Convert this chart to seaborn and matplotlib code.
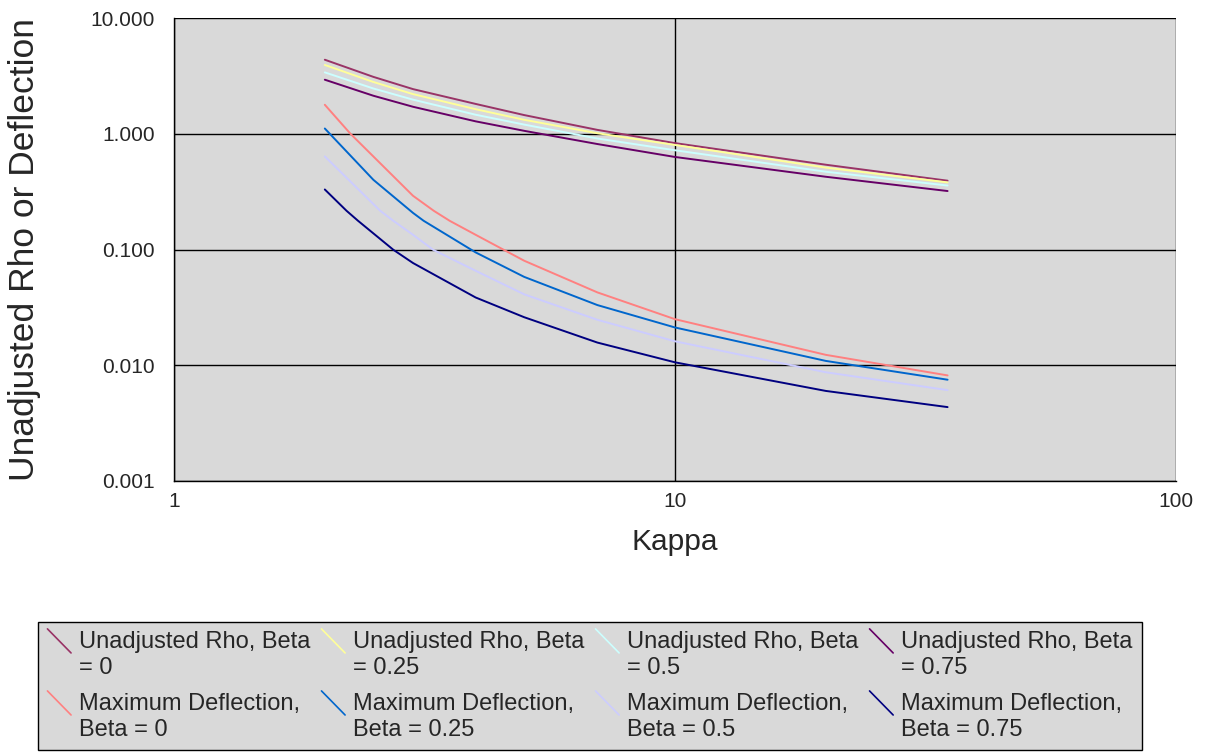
import pandas as pd
import seaborn as sns
import matplotlib.pyplot as plt
from matplotlib.lines import Line2D
from matplotlib.legend_handler import HandlerBase
from matplotlib.ticker import FixedLocator, NullLocator

# values (kappa positions where each curve was read)
rho_kappa = [2, 2.5, 3, 4, 5, 7, 10, 20, 35]
rho_b0 = [4.36, 3.10, 2.43, 1.81, 1.45, 1.08, 0.83, 0.54, 0.393]
rho_b025 = [3.93, 2.80, 2.20, 1.63, 1.32, 1.01, 0.80, 0.51, 0.38]
rho_b05 = [3.39, 2.46, 1.97, 1.46, 1.20, 0.91, 0.72, 0.47, 0.357]
rho_b075 = [2.93, 2.13, 1.71, 1.28, 1.06, 0.815, 0.63, 0.425, 0.32]

def_b0_kappa = [2, 2.25, 3, 3.3, 3.55, 4, 5, 7, 10, 20, 35]
def_b0 = [1.78, 1.0, 0.291, 0.216, 0.177, 0.134, 0.080, 0.0426, 0.025, 0.0123, 0.00817]
def_b025_kappa = [2, 2.5, 3, 3.15, 4, 5, 7, 10, 20, 35]
def_b025 = [1.11, 0.40, 0.207, 0.177, 0.0944, 0.058, 0.0331, 0.0212, 0.0109, 0.0075]
def_b05_kappa = [2, 2.58, 2.74, 3, 3.29, 4, 5, 7, 10, 20, 35]
def_b05 = [0.637, 0.216, 0.177, 0.134, 0.0995, 0.0655, 0.041, 0.0247, 0.0161, 0.0087, 0.0061]
def_b075_kappa = [2, 2.21, 2.33, 2.74, 3, 4, 5, 7, 10, 20, 35]
def_b075 = [0.33, 0.216, 0.177, 0.0995, 0.0764, 0.0385, 0.026, 0.0157, 0.0106, 0.0060, 0.00435]

series_names = [
    "Unadjusted Rho, Beta\n= 0",
    "Unadjusted Rho, Beta\n= 0.25",
    "Unadjusted Rho, Beta\n= 0.5",
    "Unadjusted Rho, Beta\n= 0.75",
    "Maximum Deflection,\nBeta = 0",
    "Maximum Deflection,\nBeta = 0.25",
    "Maximum Deflection,\nBeta = 0.5",
    "Maximum Deflection,\nBeta = 0.75",
]
series_x = [rho_kappa, rho_kappa, rho_kappa, rho_kappa,
            def_b0_kappa, def_b025_kappa, def_b05_kappa, def_b075_kappa]
series_values = [rho_b0, rho_b025, rho_b05, rho_b075,
                 def_b0, def_b025, def_b05, def_b075]
colors = ["#993366", "#FFFF99", "#CCFFFF", "#660066",
          "#FF8080", "#0066CC", "#CCCCFF", "#000080"]
y_ticks = [0.001, 0.01, 0.1, 1, 10]
y_labels = ["0.001", "0.010", "0.100", "1.000", "10.000"]
x_ticks = [1, 10, 100]
x_labels = ["1", "10", "100"]

rows = []
for name, xs, vals in zip(series_names, series_x, series_values):
    for k, v in zip(xs, vals):
        rows.append({"Kappa": k, "Value": v, "Series": name})
df = pd.DataFrame(rows)

sns.set_style("white")
plt.rcParams["font.family"] = ["Liberation Sans", "DejaVu Sans"]

LEG_FS = 17


# Excel-style diagonal legend key, sitting beside the first text line
class DiagHandler(HandlerBase):
    def create_artists(self, legend, orig_handle, xdescent, ydescent,
                       width, height, fontsize, trans):
        x0 = -xdescent
        yc = -ydescent + height / 2 + 0.62 * fontsize
        h = 1.02 * fontsize
        line = Line2D([x0, x0 + width], [yc + h / 2, yc - h / 2],
                      color=orig_handle.get_color(), lw=1.2, transform=trans)
        return [line]


fig = plt.figure(figsize=(12.1, 7.52), dpi=100)
ax = fig.add_axes([174 / 1210, 1 - 481 / 752, (1176 - 174) / 1210, (481 - 18) / 752])
ax.set_facecolor("#D9D9D9")

sns.lineplot(data=df, x="Kappa", y="Value", hue="Series", hue_order=series_names,
             palette=dict(zip(series_names, colors)), linewidth=1.4, ax=ax,
             legend=False, sort=True, estimator=None)

ax.set_xscale("log")
ax.set_yscale("log")
ax.set_xlim(1, 100)
ax.set_ylim(0.001, 10)
ax.xaxis.set_major_locator(FixedLocator(x_ticks))
ax.xaxis.set_minor_locator(NullLocator())
ax.yaxis.set_major_locator(FixedLocator(y_ticks))
ax.yaxis.set_minor_locator(NullLocator())
ax.set_xticklabels(x_labels, fontsize=15)
ax.set_yticklabels(y_labels, fontsize=15)
ax.tick_params(axis="both", direction="out", length=6, width=1, color="black")
ax.tick_params(axis="x", pad=2)
ax.tick_params(axis="y", pad=8)

ax.grid(True, which="major", color="black", linewidth=1)
for s in ["top", "right"]:
    ax.spines[s].set_visible(False)
for s in ["left", "bottom"]:
    ax.spines[s].set_color("black")
    ax.spines[s].set_linewidth(1)

ax.set_xlabel("Kappa", fontsize=21.5, labelpad=12)
ax.set_ylabel("Unadjusted Rho or Deflection", fontsize=25.5)
ax.yaxis.set_label_coords(-0.133, 0.5)

# legend fills column by column, so interleave rho / deflection
handles = [Line2D([], [], color=c) for c in colors]
order = [0, 4, 1, 5, 2, 6, 3, 7]
top = 1 - 622 / 752
leg = fig.legend([handles[i] for i in order], [series_names[i] for i in order],
                 handler_map={Line2D: DiagHandler()},
                 loc="upper left", bbox_to_anchor=(38 / 1210, top - 0.1, 1104 / 1210, 0.1),
                 mode="expand", borderaxespad=0, ncol=4, fontsize=LEG_FS,
                 frameon=True, fancybox=False,
                 handlelength=1.0, handleheight=1.0, handletextpad=0.34,
                 columnspacing=0.34, labelspacing=0.62, borderpad=0.4)
for t in leg.get_texts():
    t.set_linespacing(1.2)
leg.get_frame().set_facecolor("#D9D9D9")
leg.get_frame().set_edgecolor("black")
leg.get_frame().set_linewidth(1)
leg.get_frame().set_alpha(1)

fig.savefig("out.png", dpi=100, facecolor="white")
